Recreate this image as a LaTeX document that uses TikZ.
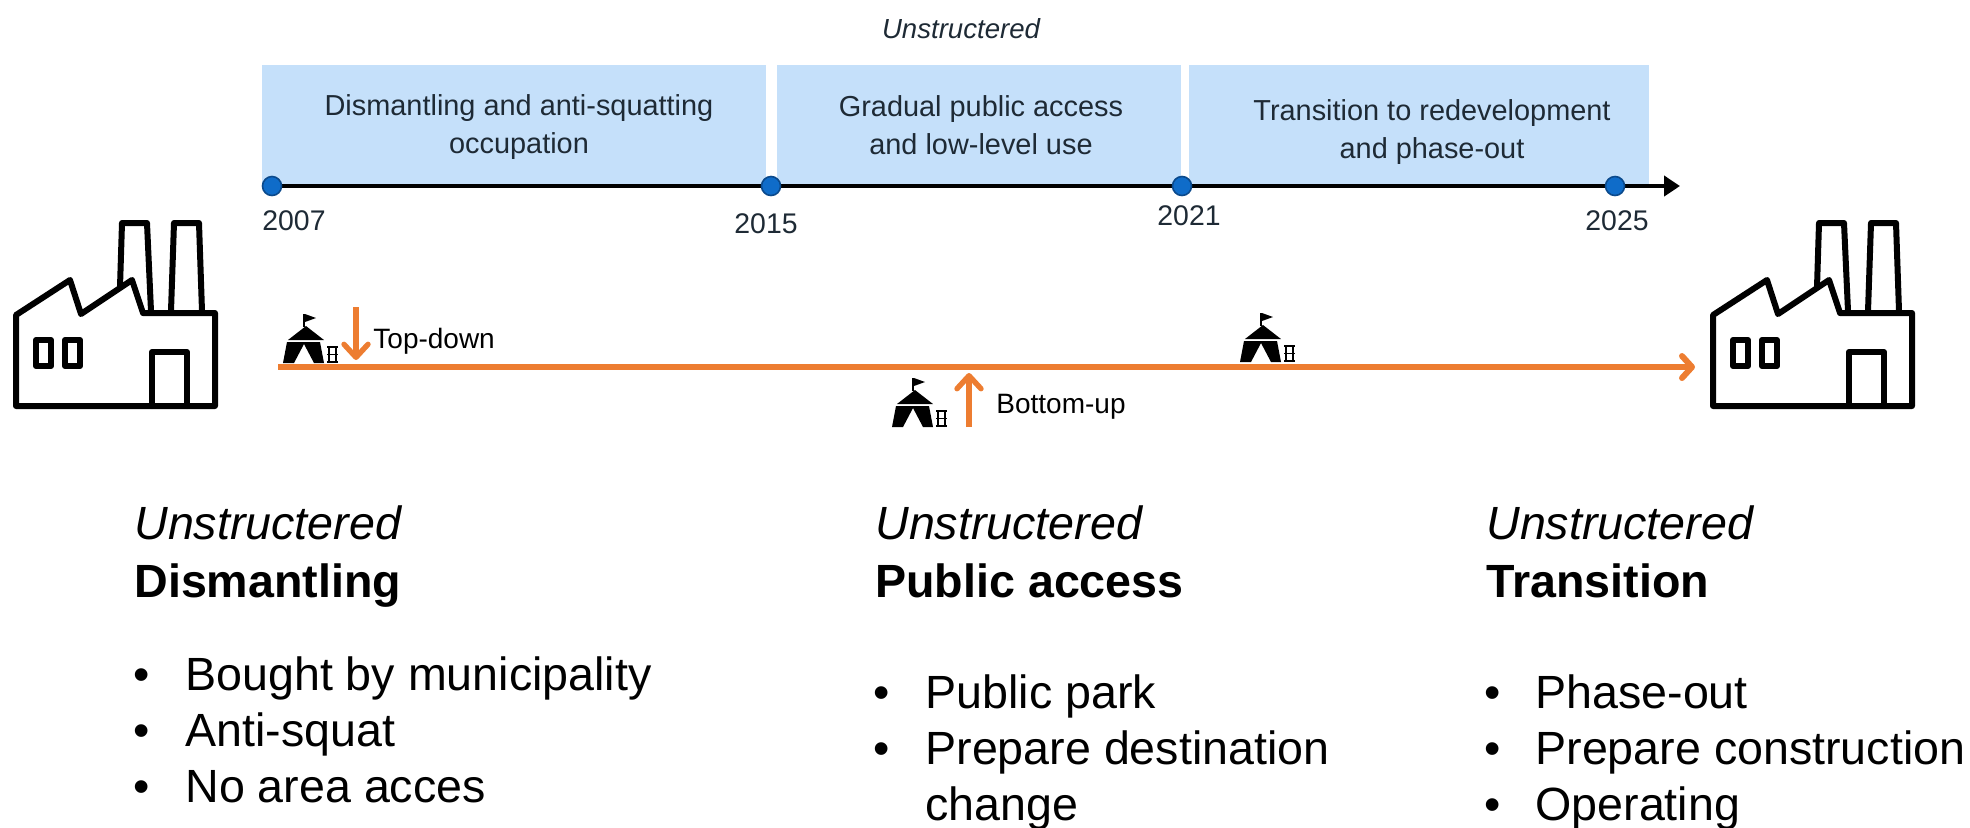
\documentclass[tikz,border=0pt]{standalone}
\usepackage{fontspec}
\setmainfont{Liberation Sans}
\usetikzlibrary{arrows.meta}
\definecolor{boxblue}{HTML}{C5E0FA}
\definecolor{dotblue}{HTML}{0F6CC9}
\definecolor{dotedge}{HTML}{0B4A8C}
\definecolor{orng}{HTML}{ED7D31}
\definecolor{inkdark}{HTML}{1E2A35}
\tikzset{
  x=0.5pt,y=-0.5pt,
  phase/.style={fill=boxblue,draw=none},
  phasetext/.style={inner sep=0pt,align=center,text=inkdark,font=\fontsize{14.45}{19}\selectfont},
  yearlabel/.style={inner sep=0pt,text=inkdark,font=\fontsize{14.2}{16}\selectfont},
  dotmark/.style={circle,fill=dotblue,draw=dotedge,line width=0.8pt,minimum size=9.5pt,inner sep=0pt},
  axisline/.style={line width=2.4pt,black,-{Triangle[length=8pt,width=10pt]}},
  orangeline/.style={line width=3pt,orng,-{Straight Barb[length=5pt,width=11pt,line cap=round,line join=round]}},
  orangeshort/.style={line width=2.7pt,orng,-{Straight Barb[length=6.5pt,width=12pt,line cap=round,line join=round]}},
  smalllabel/.style={inner sep=0pt,anchor=base west,font=\fontsize{14}{16}\selectfont},
  headtext/.style={inner sep=0pt,anchor=base west,font=\fontsize{23.3}{28}\selectfont},
  bullettext/.style={inner sep=0pt,anchor=base west,font=\fontsize{23.3}{28}\selectfont},
  factoryline/.style={line width=3pt,black,line join=round,line cap=round},
  factory/.pic={
    \draw[factoryline] (120,287)--(122,223)--(147,223)--(151,311);
    \draw[factoryline] (171,311)--(174,223)--(199,223)--(202,311);
    \draw[factoryline] (16,406)--(16,315)--(70,280)--(81,314)--(132,280)--(143,313)--(215,313)--(215,406)--cycle;
    \draw[factoryline] (36,340) rectangle (51,366);
    \draw[factoryline] (65,340) rectangle (80,366);
    \draw[factoryline] (152,406)--(152,352)--(187,352)--(187,406);
  },
  tent/.pic={
    \fill[black] (0,0)--(4,-21)--(37,-21)--(41,0)--(31,0)--(21,-19)--(11,0)--cycle;
    \fill[black] (5,-23)--(23,-37)--(41,-23)--cycle;
    \draw[black,line width=0.8pt] (21,-36)--(21,-49);
    \fill[black] (22,-49)--(33,-45)--(22,-41)--cycle;
    \draw[black,line width=1.1pt] (46,0)--(46,-17) (53,0)--(53,-17);
    \draw[black,line width=0.8pt] (44,-16)--(55,-16) (44,-8.5)--(55,-8.5) (44,-1)--(55,-1);
  }
}
\begin{document}
\begin{tikzpicture}
\useasboundingbox (0,0) rectangle (1970,827);
% phases
\fill[phase] (262,65) rectangle (766,186);
\fill[phase] (777,65) rectangle (1181,186);
\fill[phase] (1189,65) rectangle (1649,186);
\node[phasetext] (p1) at (519,127) {Dismantling and anti-squatting\\occupation};
\node[phasetext] (p2) at (981,125) {Gradual public access\\and low-level use};
\node[phasetext] (p3) at (1432,132) {Transition to redevelopment\\and phase-out};
\node[inner sep=0pt,text=inkdark,font=\fontsize{13.8}{16}\itshape\selectfont] (top) at (961,29) {Unstructered};
% axis
\coordinate (axstart) at (272,186);
\coordinate (axend) at (1680,186);
\draw[axisline] (axstart) -- (axend);
\node[dotmark] (d1) at (272,186) {};
\node[dotmark] (d2) at (771,186) {};
\node[dotmark] (d3) at (1182,186) {};
\node[dotmark] (d4) at (1615,186) {};
\node[yearlabel] (y1) at (294,221) {2007};
\node[yearlabel] (y2) at (766,224) {2015};
\node[yearlabel] (y3) at (1189,216) {2021};
\node[yearlabel] (y4) at (1617,221) {2025};
% factories
\pic {factory};
\pic[shift={(1697,0)}] {factory};
% orange process
\coordinate (ostart) at (278,367);
\coordinate (oend) at (1695,367);
\draw[orangeline] (ostart) -- (oend);
\coordinate (tda) at (356,307);
\coordinate (tdb) at (356,360);
\draw[orangeshort] (tda) -- (tdb);
\coordinate (bua) at (969,427);
\coordinate (bub) at (969,373);
\draw[orangeshort] (bua) -- (bub);
\node[smalllabel] (td) at (373,348) {Top-down};
\node[smalllabel] (bu) at (996,413) {Bottom-up};
\pic at (283,363) {tent};
\pic at (1240,362) {tent};
\pic at (892,427) {tent};
% column 1
\node[headtext] (h1a) at (134,539) {\itshape Unstructered};
\node[headtext] (h1b) at (134,597) {\bfseries Dismantling};
\node[bullettext] (b1a) at (133,690) {•};
\node[bullettext] (t1a) at (185,690) {Bought by municipality};
\node[bullettext] (b1b) at (133,746) {•};
\node[bullettext] (t1b) at (185,746) {Anti-squat};
\node[bullettext] (b1c) at (133,802) {•};
\node[bullettext] (t1c) at (185,802) {No area acces};
% column 2
\node[headtext] (h2a) at (875,539) {\itshape Unstructered};
\node[headtext] (h2b) at (875,597) {\bfseries Public access};
\node[bullettext] (b2a) at (873,708) {•};
\node[bullettext] (t2a) at (925,708) {Public park};
\node[bullettext] (b2b) at (873,764) {•};
\node[bullettext] (t2b) at (925,764) {Prepare destination};
\node[bullettext] (t2c) at (925,820) {change};
% column 3
\node[headtext] (h3a) at (1486,539) {\itshape Unstructered};
\node[headtext] (h3b) at (1486,597) {\bfseries Transition};
\node[bullettext] (b3a) at (1484,708) {•};
\node[bullettext] (t3a) at (1535,708) {Phase-out};
\node[bullettext] (b3b) at (1484,764) {•};
\node[bullettext] (t3b) at (1535,764) {Prepare construction};
\node[bullettext] (b3c) at (1484,820) {•};
\node[bullettext] (t3c) at (1535,820) {Operating};
\end{tikzpicture}
\end{document}
